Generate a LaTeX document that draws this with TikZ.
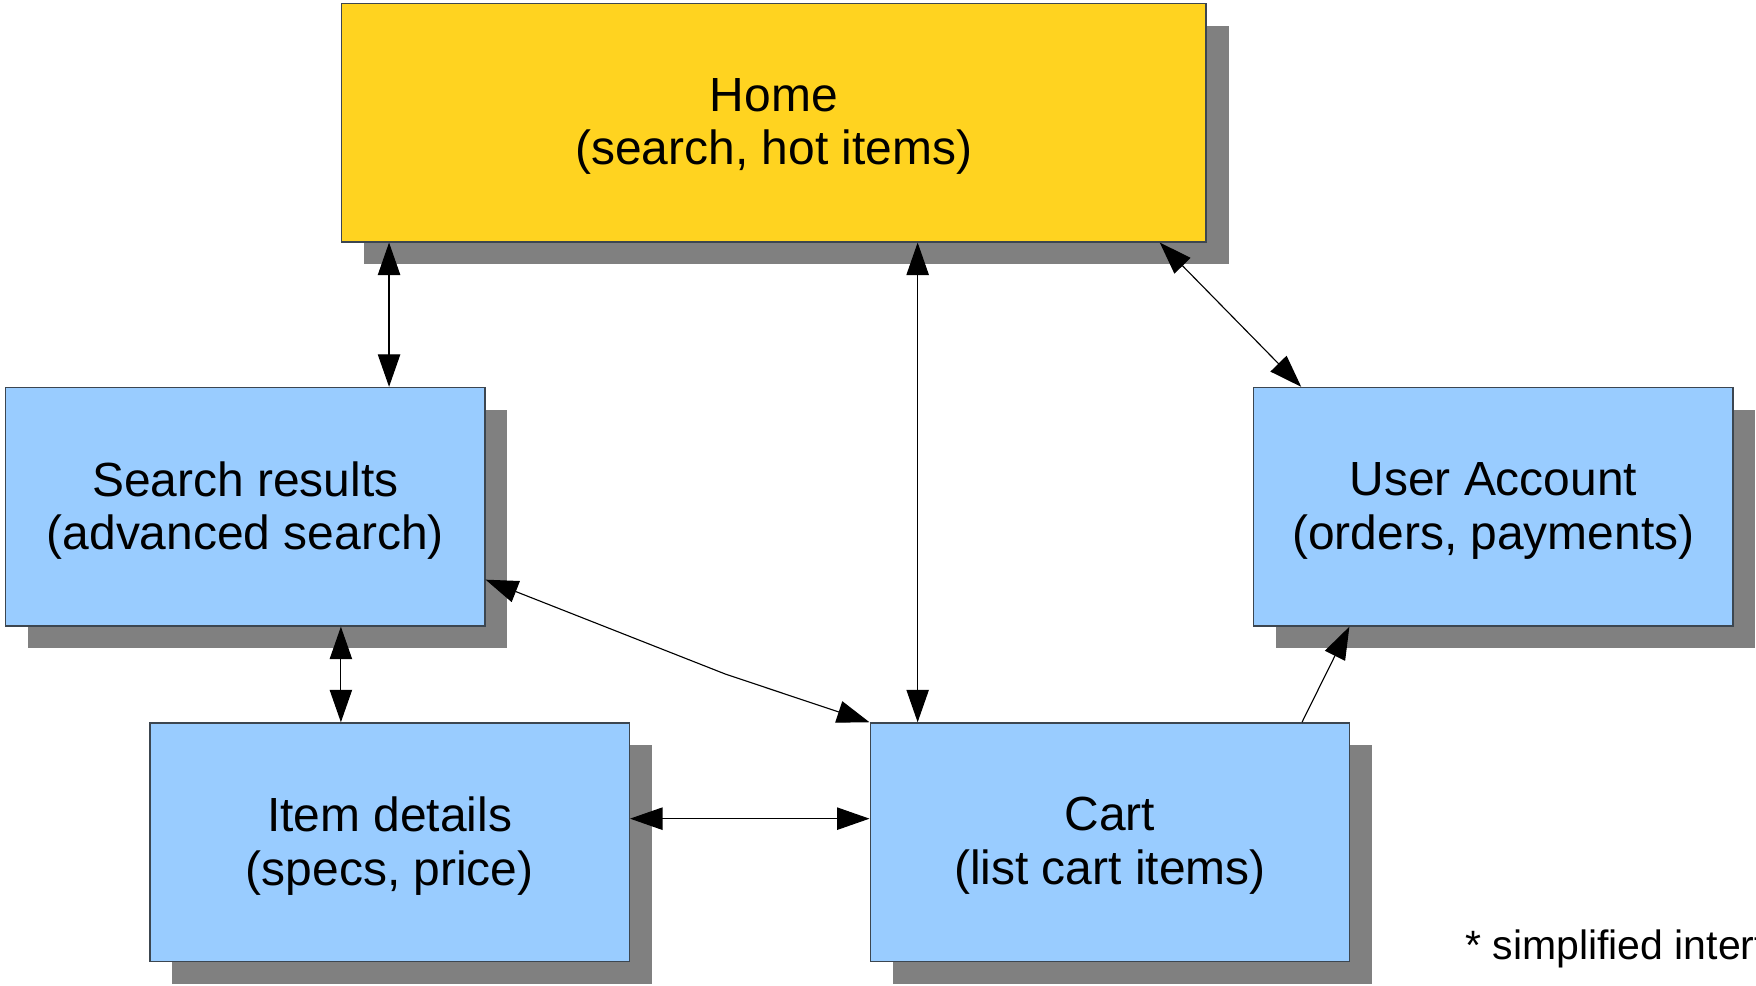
\documentclass[tikz,border=0pt]{standalone}
\usepackage{fontspec}
\setmainfont{Liberation Sans}
\usetikzlibrary{arrows.meta,shadows,calc}
\definecolor{homeyellow}{HTML}{FFD320}
\definecolor{boxblue}{HTML}{99CCFF}
\definecolor{shadowgray}{HTML}{808080}
\definecolor{boxline}{HTML}{3C4650}
\begin{document}
\begin{tikzpicture}[x=0.5pt,y=-0.5pt,
  pagebox/.style={draw=boxline,line width=0.6pt,minimum width=214pt,minimum height=106.5pt,
    inner sep=0pt,align=center,font=\fontsize{21.4}{24}\selectfont,text depth=1pt,
    drop shadow={shadow xshift=10pt,shadow yshift=-10pt,fill=shadowgray,opacity=1}},
  bluebox/.style={pagebox,fill=boxblue},
  biarrow/.style={line width=0.5pt,{Triangle[length=14.5pt,width=10pt]}-{Triangle[length=14.5pt,width=10pt]}},
  onearrow/.style={line width=0.5pt,-{Triangle[length=14.5pt,width=10pt]}},
  notetext/.style={font=\fontsize{18.3}{22}\selectfont,anchor=base west,inner sep=0pt}]
\useasboundingbox (0,0) rectangle (1568,880);
\fill[white] (0,0) rectangle (1568,880);
\clip (0,0) rectangle (1568,880);

\node[pagebox,fill=homeyellow,minimum width=386pt] (home) at (691,109.5) {Home\\(search, hot items)};
\node[bluebox] (sr) at (219,452.5) {Search results\\(advanced search)};
\node[bluebox] (ua) at (1333.5,452.5) {User Account\\(orders, payments)};
\node[bluebox] (item) at (348,752) {Item details\\(specs, price)};
\node[bluebox] (cart) at (991,752) {Cart\\(list cart items)};
\node[notetext] (note) at (1308,857) {* simplified interface};

% helper coordinates on the box borders
\coordinate (hsw) at ([xshift=21.5pt]home.south west);
\coordinate (hsc) at ([xshift=21.5pt]cart.north west);
\coordinate (hse) at ([xshift=-21pt]home.south east);
\coordinate (uan) at ([xshift=21.5pt]ua.north west);
\coordinate (srs) at ([xshift=85.5pt]item.north west);
\coordinate (sre) at ([yshift=21pt]sr.south east);
\coordinate (bend) at (648,602);
\coordinate (ie) at ([yshift=10.5pt]item.east);
\coordinate (cw) at ([yshift=10.5pt]cart.west);
\coordinate (cne) at ([xshift=-21.5pt]cart.north east);
\coordinate (uas) at ([xshift=43pt]ua.south west);

\draw[biarrow] (hsw) -- (hsw |- sr.north);
\draw[biarrow] (hsc |- home.south) -- (hsc);
\draw[biarrow] (hse) -- (uan);
\draw[biarrow] (srs |- sr.south) -- (srs);
\draw[biarrow] (sre) -- (bend) -- (cart.north west);
\draw[biarrow] (ie) -- (cw);
\draw[onearrow] (cne) -- (uas);
\end{tikzpicture}
\end{document}
